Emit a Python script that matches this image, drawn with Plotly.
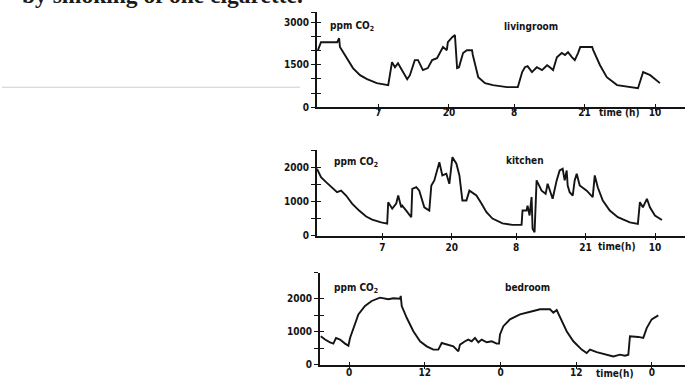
import plotly.graph_objects as go

# ---------------- data ----------------
# livingroom: hours on a running clock (7 = day 1 07:00, 32 = day 2 08:00 ...)
lr_hours = [-4.15, -3.6, -0.6, -0.25, -0.1, 1.2, 2.3, 3.6, 4.9, 6.7, 8.6, 8.8, 9.5, 10.05, 10.6,
            11.3, 12.3, 12.8, 13.7, 14.3, 15.2, 16.1, 16.9, 17.8, 18.35, 18.9, 19.6, 19.8,
            20.6, 21.1, 21.5, 21.85, 22.6, 23.3, 24.25, 24.4, 25.4, 26.65, 28.1, 30.7, 32.7,
            33.5, 34.0, 34.5, 35.3, 36.2, 37.15, 38.1, 38.6, 39.2, 39.9, 40.8, 41.4, 41.95,
            42.7, 43.2, 43.8, 44.2, 46.4, 46.6, 47.85, 49.1, 51.0, 53.4, 54.85, 55.8, 57.1, 58.9]
lr_ppm = [2010, 2290, 2290, 2430, 2120, 1730, 1380, 1130, 990, 850, 780, 780, 1590, 1410, 1550,
          1310, 990, 1130, 1660, 1660, 1310, 1380, 1660, 1730, 1910, 2120, 2010, 2290,
          2470, 2540, 1380, 1410, 1910, 2010, 2010, 1840, 1060, 850, 780, 710, 710,
          1240, 1410, 1450, 1240, 1410, 1310, 1480, 1410, 1310, 1760, 1910, 1840, 1940,
          1760, 1660, 1910, 2120, 2120, 2010, 1480, 1060, 780, 710, 670, 1240, 1130, 850]

# kitchen
kt_hours = [-5.2, -4.45, -3.5, -2.4, -1.45, -0.7, 0.24, 1.36, 2.67, 3.99, 5.11, 6.8, 7.92, 8.11,
            8.86, 9.61, 9.98, 10.54, 10.73, 11.48, 12.42, 12.61, 13.36, 13.92, 14.86, 15.79,
            16.17, 16.73, 17.11, 17.67, 18.23, 18.98, 19.54, 19.92, 20.11, 20.86, 21.42, 21.98,
            22.73, 23.29, 24.6, 25.54, 26.48, 27.6, 29.48, 31.35, 33.04, 33.22, 33.97, 34.16,
            34.54, 34.91, 35.1, 35.47, 35.85, 36.79, 37.54, 37.91, 38.85, 39.6, 40.16, 40.72,
            41.1, 41.47, 41.66, 42.03, 42.6, 42.97, 43.35, 43.91, 45.22, 46.34, 46.72, 47.28,
            48.22, 49.53, 51.03, 53.28, 54.78, 55.16, 55.72, 56.47, 57.03, 57.97, 59.28]
kt_ppm = [1960, 1715, 1570, 1420, 1275, 1320, 1176, 940, 735, 560, 470, 390, 350, 980,
          790, 940, 1176, 830, 880, 735, 540, 1370, 1420, 1320, 830, 735,
          1470, 1620, 1860, 2155, 1765, 1815, 1520, 2060, 2300, 2110, 1765, 1030,
          1030, 1320, 1176, 940, 685, 500, 360, 315, 315, 735, 735, 880,
          590, 1130, 200, 100, 1620, 1320, 1225, 1520, 1080, 1620, 1910, 1960,
          1620, 1910, 1470, 1275, 1176, 1620, 1815, 1470, 1320, 1130, 1765, 1420,
          1030, 735, 540, 390, 345, 980, 830, 1080, 830, 590, 460]

# bedroom: hours from the first midnight
bd_hours = [-4.48, -3.8, -3.01, -2.48, -2.06, -1.43, -0.63, -0.1, 0.16, 0.69, 1.48, 2.53, 3.59,
            4.91, 6.23, 7.02, 8.08, 8.19, 8.35, 9.14, 10.19, 11.25, 12.3, 13.36, 14.15, 14.68,
            15.47, 16.53, 17.32, 17.58, 18.38, 18.9, 19.44, 19.96, 20.49, 21.02, 21.81, 22.6,
            23.4, 23.76, 23.92, 24.45, 25.5, 27.09, 29.2, 30.26, 31.84, 32.37, 32.9, 33.69,
            34.48, 35.54, 36.86, 37.65, 38.18, 39.24, 40.82, 41.88, 42.93, 43.72, 44.25, 44.51,
            45.83, 46.62, 47.16, 47.95, 49.0]
bd_ppm = [866, 766, 684, 644, 815, 766, 644, 583, 815, 1119, 1526, 1778, 1930,
          2031, 1982, 2012, 2000, 2082, 1778, 1423, 1018, 714, 562, 462, 462, 663,
          614, 562, 410, 614, 714, 766, 714, 815, 684, 766, 684, 714,
          644, 644, 918, 1170, 1374, 1526, 1626, 1678, 1678, 1575, 1657, 1322,
          1018, 714, 462, 359, 462, 389, 310, 258, 310, 280, 310, 866,
          845, 815, 1110, 1374, 1496]

day_tick_hours = [7, 20, 32, 45, 58]
day_tick_labels = ["7", "20", "8", "21", "10"]
bd_tick_hours = [0, 12, 24, 36, 48]
bd_tick_labels = ["0", "12", "0", "12", "0"]

lr_ylabel_vals = [0, 1500, 3000]
kt_ylabel_vals = [0, 1000, 2000]
bd_ylabel_vals = [0, 1000, 2000]
lr_yticks = [0, 500, 1000, 1500, 2000, 2500, 3000, 3353]
kt_yticks = [0, 500, 1000, 1500, 2000, 2500]
bd_yticks = [0, 500, 1000, 1500, 2000, 2782]

room_names = ["livingroom", "kitchen", "bedroom"]
time_titles = ["time (h)", "time(h)", "time(h)"]

# ---------------- figure ----------------
W, H = 685, 388
SHOT_H = 381
L = 317
INK = "#141414"
FONT = "DejaVu Sans Condensed, Liberation Sans Narrow, Arial Narrow, sans-serif"

def px_x(p):
    return (p - L) / (W - L)

def px_y(p):
    return 1 - p / SHOT_H

panels = [
    dict(x=lr_hours, y=lr_ppm, xr=[-4.33, 63.52], yr=[0, 3353], ydom=[px_y(107), px_y(12)], xdom=[0, 1],
         xt=day_tick_hours, xl=day_tick_labels, yv=lr_ylabel_vals, yt=lr_yticks, so=-5),
    dict(x=kt_hours, y=kt_ppm, xr=[-5.2, 63.59], yr=[0, 2500], ydom=[px_y(235), px_y(150)], xdom=[0, 1],
         xt=day_tick_hours, xl=day_tick_labels, yv=kt_ylabel_vals, yt=kt_yticks, so=1),
    dict(x=bd_hours, y=bd_ppm, xr=[-4.6, 53.23], yr=[0, 2782], ydom=[px_y(364), px_y(272)], xdom=[px_x(320), 1],
         xt=bd_tick_hours, xl=bd_tick_labels, yv=bd_ylabel_vals, yt=bd_yticks, so=-3),
]

fig = go.Figure()
layout = {}
tickfont = dict(family=FONT, size=10, color=INK, weight="bold")

for i, p in enumerate(panels):
    n = i + 1
    on = i + 4
    xs = "" if n == 1 else str(n)
    fig.add_trace(go.Scatter(x=p["x"], y=p["y"], mode="lines",
                             line=dict(color=INK, width=1.9, shape="linear"),
                             xaxis="x" + xs, yaxis="y" + xs, showlegend=False, hoverinfo="skip"))
    fig.add_trace(go.Scatter(x=[None], y=[None], mode="lines", xaxis="x%d" % on, yaxis="y%d" % on,
                             showlegend=False, hoverinfo="skip"))
    layout["xaxis" + xs] = dict(domain=p["xdom"], anchor="y" + xs, range=p["xr"], showgrid=False,
                                zeroline=False, showline=True, linecolor=INK, linewidth=1.8,
                                tickvals=p["xt"], ticktext=p["xl"], ticks="inside", ticklen=3,
                                tickwidth=1.2, tickcolor=INK, tickfont=tickfont,
                                ticklabelstandoff=p["so"], fixedrange=True)
    layout["yaxis" + xs] = dict(domain=p["ydom"], anchor="x" + xs, range=p["yr"], showgrid=False,
                                zeroline=False, showline=True, linecolor=INK, linewidth=1.8,
                                tickvals=p["yv"], ticks="outside", ticklen=4,
                                tickwidth=1.2, tickcolor=INK, tickfont=tickfont, fixedrange=True,
                                minor=dict(tickvals=p["yt"], ticks="outside", ticklen=4,
                                           tickwidth=1.2, tickcolor=INK, showgrid=False))
    layout["xaxis%d" % on] = dict(overlaying="x" + xs, anchor="y%d" % on, range=p["xr"], showgrid=False,
                                  zeroline=False, showline=False, tickvals=p["xt"], ticks="outside",
                                  ticklen=3, tickwidth=1.2, tickcolor=INK, showticklabels=False,
                                  fixedrange=True)
    layout["yaxis%d" % on] = dict(overlaying="y" + xs, anchor="x%d" % on, range=p["yr"], showgrid=False,
                                  zeroline=False, showline=False, tickvals=p["yt"], ticks="inside",
                                  ticklen=4, tickwidth=1.2, tickcolor=INK, showticklabels=False,
                                  fixedrange=True)

ann_font = dict(family=FONT, size=10, color=INK, weight="bold")
annotations = []
label_rows = [26, 162, 288]
name_rows = [26, 160, 287]
time_rows = [112, 246, 373]
time_cols = [619, 617, 615]
for i in range(3):
    annotations.append(dict(text="ppm CO<sub>2</sub>", xref="paper", yref="paper",
                            x=px_x([328, 332, 332][i]), y=px_y(label_rows[i]),
                            xanchor="left", yanchor="middle", showarrow=False, font=ann_font))
    annotations.append(dict(text=room_names[i], xref="paper", yref="paper",
                            x=px_x([502, 504, 503][i]), y=px_y(name_rows[i]),
                            xanchor="left", yanchor="middle", showarrow=False, font=ann_font))
    annotations.append(dict(text=time_titles[i], xref="paper", yref="paper",
                            x=px_x(time_cols[i]), y=px_y(time_rows[i]),
                            xanchor="center", yanchor="middle", showarrow=False, font=ann_font))

# cut-off line of the page text above the figure
annotations.append(dict(text="by smoking of one cigarette.", xref="paper", yref="paper",
                        x=px_x(21), y=px_y(9), xanchor="left", yanchor="bottom", showarrow=False,
                        borderpad=0,
                        font=dict(family="Liberation Serif, DejaVu Serif, serif", size=23.5,
                                  color="#1a1a1a", weight="bold")))

shapes = [dict(type="line", xref="paper", yref="paper", x0=px_x(2), x1=px_x(300),
               y0=px_y(87), y1=px_y(87), line=dict(color="#cdcdcd", width=1))]

fig.update_layout(width=W, height=H, margin=dict(l=L, r=0, t=0, b=0),
                  paper_bgcolor="white", plot_bgcolor="rgba(0,0,0,0)",
                  annotations=annotations, shapes=shapes, **layout)

fig.write_html("out.html", config={"displayModeBar": False},
               post_script="document.body.style.margin='0';document.body.style.overflow='hidden';")
